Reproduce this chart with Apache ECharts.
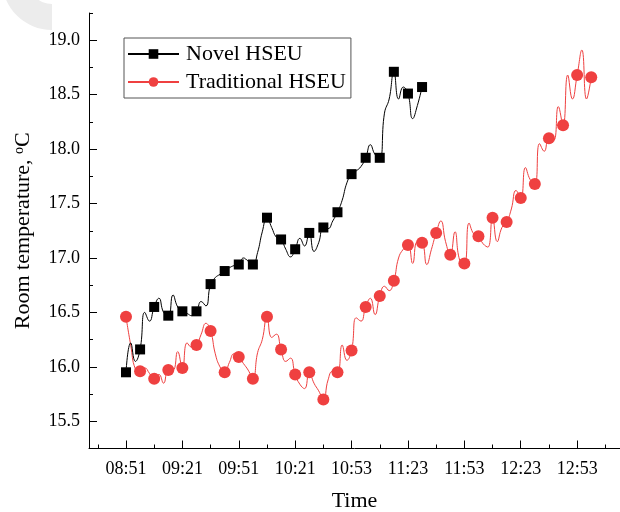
<!DOCTYPE html>
<html><head><meta charset="utf-8">
<script src="https://cdn.jsdelivr.net/npm/echarts@6/dist/echarts.min.js"></script>
<style>html,body{margin:0;padding:0;background:#fff}#c{width:620px;height:512px}</style>
</head><body><div id="c"></div>
<script>
// Tick labels on the time axis (one every 30 minutes of axis distance)
const tickLabels = ['08:51','09:21','09:51','10:21','10:53','11:23','11:53','12:23','12:53'];
const yTickLabels = [15.5, 16.0, 16.5, 17.0, 17.5, 18.0, 18.5, 19.0];
// Room temperature samples (every 2.5 min); every 3rd sample is drawn with a marker
const novelTemp = [
  15.95, 16.22, 16.05, 16.16, 16.50, 16.42, 16.55, 16.63, 16.50, 16.47,
  16.66, 16.55, 16.51, 16.49, 16.47, 16.51, 16.60, 16.56, 16.76, 16.82,
  16.85, 16.88, 16.91, 16.93, 16.94, 17.00, 16.97, 16.94, 17.05, 17.24,
  17.37, 17.28, 17.19, 17.17, 17.08, 17.01, 17.08, 17.18, 17.11, 17.23,
  17.06, 17.14, 17.28, 17.27, 17.34, 17.42, 17.53, 17.69, 17.77, 17.80,
  17.84, 17.92, 18.04, 17.95, 17.92, 18.33, 18.46, 18.71, 18.46, 18.57,
  18.51, 18.28, 18.40, 18.57
];
const tradTemp = [
  16.46, 16.20, 15.98, 15.96, 15.99, 15.94, 15.89, 15.93, 15.85, 15.97,
  15.97, 16.14, 15.99, 16.22, 16.18, 16.20, 16.30, 16.40, 16.33, 16.12,
  16.00, 15.95, 16.04, 16.12, 16.09, 16.03, 15.97, 15.89, 16.13, 16.25,
  16.46, 16.27, 16.30, 16.16, 16.05, 16.08, 15.93, 15.84, 15.80, 15.95,
  15.85, 15.78, 15.70, 15.88, 15.96, 15.95, 16.20, 16.06, 16.15, 16.45,
  16.42, 16.55, 16.63, 16.48, 16.65, 16.74, 16.70, 16.79, 17.00, 17.08,
  17.12, 16.95, 17.15, 17.14, 16.94, 17.08, 17.23, 17.34, 17.15, 17.03,
  17.24, 16.98, 16.95, 17.32, 17.22, 17.20, 17.13, 17.10, 17.37, 17.15,
  17.28, 17.33, 17.45, 17.62, 17.55, 17.83, 17.72, 17.68, 18.05, 17.98,
  18.10, 18.08, 18.39, 18.22, 18.68, 18.46, 18.68, 18.91, 18.46, 18.66
];
const sampleMinutes = 2.5;
const markerEvery = 3;
const tickStep = 30;

const majorX = () => tickLabels.map((_, k) => k * tickStep);
const minorX = () => [-15].concat(tickLabels.map((_, k) => k * tickStep + 15));
const majorY = () => yTickLabels.slice();
const minorY = () => yTickLabels.map(v => v + 0.25);

function build(arr) {
  return arr.map((v, j) => j % markerEvery === 0
    ? { value: [j * sampleMinutes, v] }
    : { value: [j * sampleMinutes, v], symbol: 'none' });
}

const FONT = 'Liberation Serif';
const chart = echarts.init(document.getElementById('c'), null, { renderer: 'canvas' });
const xRange = { min: -19.68, max: 262.8 };
const yRange = { min: 15.25, max: 19.25 };

function tickAxis(range, pos, vals, len) {
  return {
    type: 'value', min: range.min, max: range.max, position: pos,
    axisLine: { show: false, onZero: false },
    axisTick: { show: true, inside: true, length: len, customValues: vals, lineStyle: { color: '#000', width: 1 } },
    axisLabel: { show: false },
    splitLine: { show: false }
  };
}

chart.setOption({
  animation: false,
  backgroundColor: '#fff',
  graphic: [{
    type: 'sector',
    shape: { cx: 52, cy: -20, r: 50, r0: 24, startAngle: Math.PI / 2, endAngle: Math.PI },
    style: { fill: '#ececec' },
    z: -10
  }],
  grid: { left: 89, top: 13, right: 0, bottom: 63.5, containLabel: false, outerBoundsMode: 'none' },
  legend: {
    data: ['Novel HSEU', 'Traditional HSEU'],
    orient: 'vertical',
    left: 124, top: 38,
    itemWidth: 51, itemHeight: 12, itemGap: 6,
    padding: [5, 5, 5, 3],
    borderColor: '#555', borderWidth: 1,
    textStyle: { fontFamily: FONT, fontSize: 22, color: '#000', lineHeight: 22, padding: [0, 0, 0, 2] }
  },
  xAxis: [{
    type: 'value', min: xRange.min, max: xRange.max, position: 'bottom',
    name: 'Time', nameLocation: 'middle', nameGap: 42,
    nameTextStyle: { fontFamily: FONT, fontSize: 22, color: '#000' },
    axisLine: { show: true, onZero: false, lineStyle: { color: '#000', width: 1 } },
    axisTick: { show: false },
    axisLabel: { show: true, customValues: majorX(), margin: 12, fontFamily: FONT, fontSize: 18, color: '#000',
      formatter: v => tickLabels[Math.round(v / tickStep)] },
    splitLine: { show: false }
  }, tickAxis(xRange, 'bottom', majorX(), 8), tickAxis(xRange, 'bottom', minorX(), 4)],
  yAxis: [{
    type: 'value', min: yRange.min, max: yRange.max, position: 'left',
    name: '{a|Room temperature, }{s|o}{a|C}', nameLocation: 'middle', nameGap: 55, nameRotate: 90,
    nameTextStyle: { fontFamily: FONT, color: '#000',
      rich: { a: { fontFamily: FONT, fontSize: 22, color: '#000' },
              s: { fontFamily: FONT, fontSize: 14, color: '#000', verticalAlign: 'top' } } },
    axisLine: { show: true, onZero: false, lineStyle: { color: '#000', width: 1 } },
    axisTick: { show: false },
    axisLabel: { show: true, customValues: majorY(), margin: 9, fontFamily: FONT, fontSize: 18, color: '#000',
      formatter: v => v.toFixed(1) },
    splitLine: { show: false }
  }, tickAxis(yRange, 'left', majorY(), 8), tickAxis(yRange, 'left', minorY(), 4)],
  series: [{
    name: 'Novel HSEU', type: 'line', smooth: 0.5, showAllSymbol: true,
    symbol: 'rect', symbolSize: 10,
    itemStyle: { color: '#000' }, lineStyle: { color: '#000', width: 1 },
    data: build(novelTemp), z: 3
  }, {
    name: 'Traditional HSEU', type: 'line', smooth: 0.5, showAllSymbol: true,
    symbol: 'circle', symbolSize: 12,
    itemStyle: { color: '#EF4040' }, lineStyle: { color: '#EF4040', width: 1 },
    data: build(tradTemp), z: 2
  }]
});
</script></body></html>
